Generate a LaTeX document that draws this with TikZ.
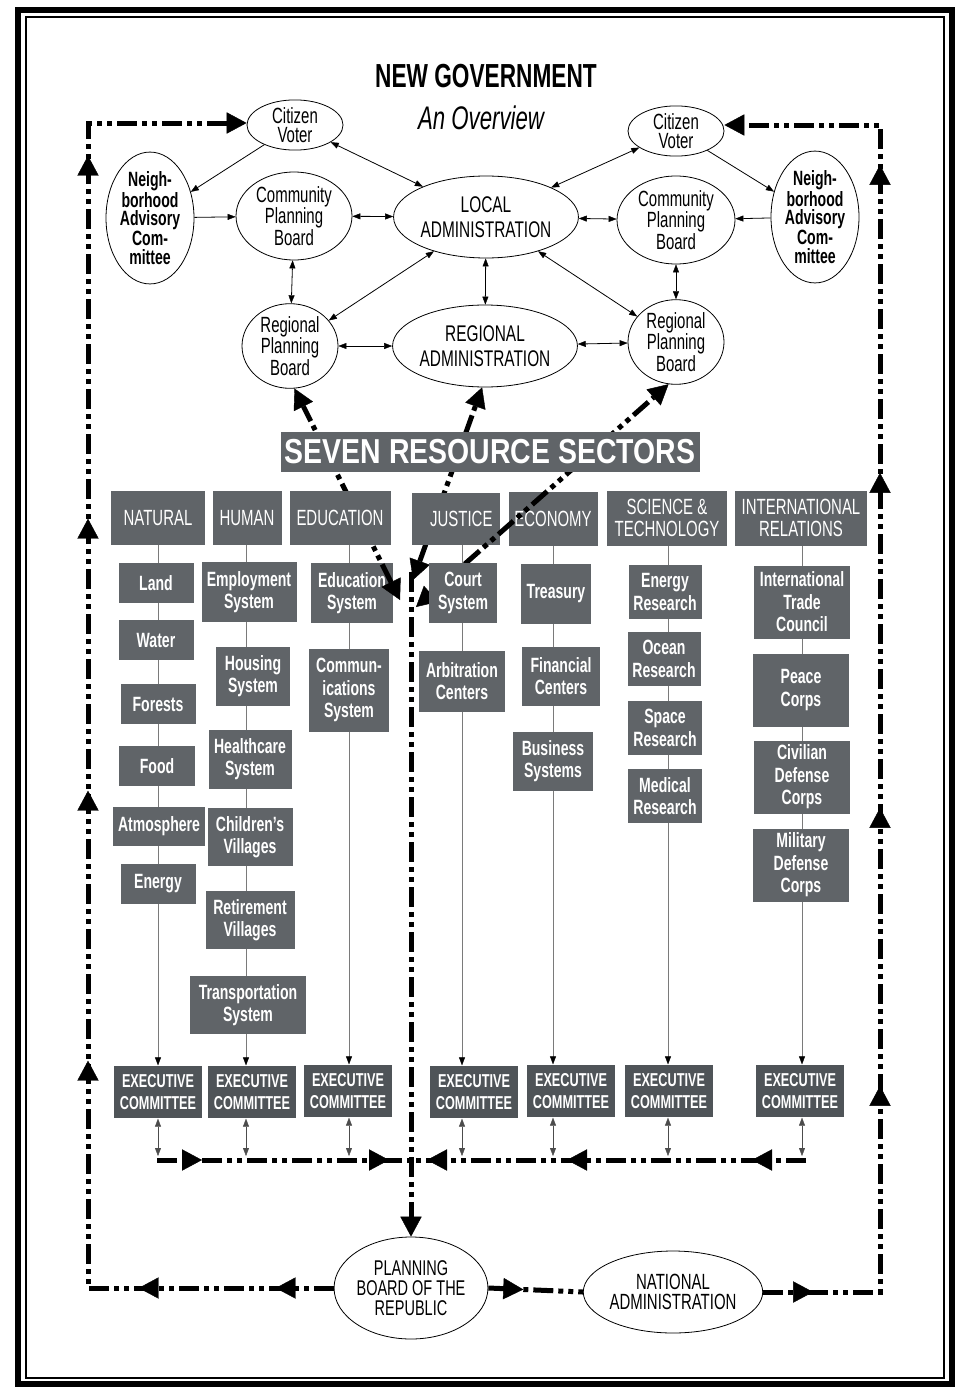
\documentclass[tikz,border=0pt]{standalone}
\usepackage{fontspec}
\setmainfont{Liberation Sans}[FakeStretch=0.68]
\newfontfamily\widefont{Liberation Sans}[FakeStretch=0.82]
\usetikzlibrary{shapes.geometric,arrows.meta,decorations.markings,calc}
\pgfdeclarelayer{bg}
\pgfsetlayers{bg,main}
\definecolor{boxgray}{HTML}{606468}
\definecolor{exgray}{HTML}{4F5458}
\definecolor{linegray}{HTML}{7A7A7A}
\tikzset{
  bigT/.tip={Triangle[length=15pt,width=16pt,line width=0.3pt]},
  smT/.tip={Triangle[length=6pt,width=4.5pt,line width=0.3pt]},
  ell/.style 2 args={ellipse,draw=black,line width=0.6pt,fill=white,inner sep=0pt,
    minimum width=#1*0.75pt,minimum height=#2*0.75pt,align=center,
    font=\fontsize{16.5}{14.5}\selectfont},
  sbox/.style 2 args={fill=boxgray,text=white,inner sep=0pt,align=center,
    minimum width=#1*0.75pt,minimum height=#2*0.75pt,
    font=\bfseries\fontsize{15.5}{16.8}\selectfont},
  hbox/.style 2 args={fill=boxgray,text=white,inner sep=0pt,align=center,
    minimum width=#1*0.75pt,minimum height=#2*0.75pt,
    font=\fontsize{16.5}{17}\selectfont},
  exbox/.style={fill=exgray,text=white,inner sep=0pt,align=center,
    minimum width=66pt,minimum height=39.5pt,
    font=\bfseries\fontsize{14}{16}\selectfont},
  thin1/.style={line width=0.6pt,-smT},
  dbl/.style={line width=0.6pt,smT-smT},
  colline/.style={line width=0.7pt,draw=linegray,-{Triangle[length=6pt,width=4.5pt,line width=0.3pt,color=black]}},
  thk/.style={line width=3.75pt,draw=black,
    dash pattern=on 15pt off 3.75pt on 3.75pt off 3.75pt on 3.75pt off 3.75pt},
}
\begin{document}
\begin{tikzpicture}[x=0.75pt,y=-0.75pt]
\useasboundingbox (0,0) rectangle (961,1388);
% frame
\draw[line width=4.5pt] (17.5,10.5) rectangle (951.5,1384);
\draw[line width=1.1pt] (26,17) rectangle (944,1378);

% titles
\node[font=\bfseries\fontsize{25}{26}\selectfont] (title) at (486,76) {NEW GOVERNMENT};
\node[font=\itshape\fontsize{24.5}{26}\selectfont] (subtitle) at (481,118) {An Overview};

% ellipses
\node[ell={96}{48}] (cvL) at (295,125) {Citizen\\Voter};
\node[ell={96}{48}] (cvR) at (676,131) {Citizen\\Voter};
\node[ell={88}{126},font=\bfseries\fontsize{15.5}{14}\selectfont] (nacL) at (150,218) {Neigh-\\borhood\\Advisory\\Com-\\mittee};
\node[ell={88}{126},font=\bfseries\fontsize{15.5}{14}\selectfont] (nacR) at (815,217) {Neigh-\\borhood\\Advisory\\Com-\\mittee};
\node[ell={116}{88},font=\fontsize{16.5}{14.5}\selectfont] (cpbL) at (294,216) {Community\\Planning\\Board};
\node[ell={118}{88},font=\fontsize{16.5}{14.5}\selectfont] (cpbR) at (676,220) {Community\\Planning\\Board};
\node[ell={172}{82},font=\fontsize{17}{19}\selectfont] (loc) at (486,217) {LOCAL\\ADMINISTRATION};
\node[ell={96}{80}] (rpbL) at (290,346) {Regional\\Planning\\Board};
\node[ell={170}{82},font=\fontsize{17}{19}\selectfont] (reg) at (485,346) {REGIONAL\\ADMINISTRATION};
\node[ell={96}{80}] (rpbR) at (676,342) {Regional\\Planning\\Board};
\node[ell={136}{102},font=\fontsize{16}{15}\selectfont] (pbr) at (411,1288) {PLANNING\\BOARD OF THE\\REPUBLIC};
\node[ell={166}{82},font=\fontsize{16.5}{15}\selectfont] (nat) at (673,1292) {NATIONAL\\ADMINISTRATION};

% thin connectors
\draw[thin1] (cvL) -- (nacL);
\draw[dbl] (cvL) -- (loc);
\draw[thin1] (nacL) -- (cpbL);
\draw[dbl] (cpbL) -- (loc);
\draw[dbl] (cpbL) -- (rpbL);
\draw[dbl] (loc) -- (rpbL);
\draw[dbl] (loc) -- (reg);
\draw[dbl] (loc) -- (rpbR);
\draw[dbl] (cvR) -- (loc);
\draw[thin1] (cvR) -- (nacR);
\draw[thin1] (nacR) -- (cpbR);
\draw[dbl] (loc) -- (cpbR);
\draw[dbl] (cpbR) -- (rpbR);
\draw[dbl] (rpbL) -- (reg);
\draw[dbl] (reg) -- (rpbR);

% column coordinates
\coordinate (colA) at (158,0);
\coordinate (colB) at (246,0);
\coordinate (colC) at (349,0);
\coordinate (colD) at (462,0);
\coordinate (colE) at (553,0);
\coordinate (colF) at (668,0);
\coordinate (colG) at (802,0);
\coordinate (hl) at (0,1156);
\coordinate (J) at (411,1160);
\coordinate (hlft) at (157,1160);
\coordinate (hrt) at (806,1160);
\coordinate (Jtop) at (411,572);
\coordinate (s1) at (400,600);
\coordinate (s2) at (413,580);
\coordinate (s3) at (416,607);
\coordinate (BL) at (88,1288);
\coordinate (TL) at (88,123);
\coordinate (BR) at (880,1292);
\coordinate (TR) at (880,125);

% sub boxes (Court System drawn later)
\node[sbox={75}{40}] (a1) at (156,583) {Land};
\node[sbox={75}{40}] (a2) at (156,640) {Water};
\node[sbox={75}{40}] (a3) at (158,704) {Forests};
\node[sbox={76}{40}] (a4) at (157,766) {Food};
\node[sbox={92}{39}] (a5) at (159,826) {Atmosphere};
\node[sbox={75}{40}] (a6) at (158,884) {Energy};

\node[sbox={95}{60}] (b1) at (249,592) {Employment\\System};
\node[sbox={74}{59}] (b2) at (253,676) {Housing\\System};
\node[sbox={83}{59}] (b3) at (250,759) {Healthcare\\System};
\node[sbox={85}{58}] (b4) at (250,837) {Children’s\\Villages};
\node[sbox={89}{58}] (b5) at (250,920) {Retirement\\Villages};
\node[sbox={116}{58}] (b6) at (248,1005) {Transportation\\System};

\node[sbox={82}{60}] (c1) at (352,593) {Education\\System};
\node[sbox={80}{83}] (c2) at (349,690) {Commun-\\ications\\System};

\node[sbox={86}{61}] (d2) at (462,681) {Arbitration\\Centers};

\node[sbox={70}{60}] (e1) at (556,594) {Treasury};
\node[sbox={78}{59}] (e2) at (561,676) {Financial\\Centers};
\node[sbox={80}{59}] (e3) at (553,761) {Business\\Systems};

\node[sbox={73}{54}] (f1) at (665,592) {Energy\\Research};
\node[sbox={73}{54}] (f2) at (664,659) {Ocean\\Research};
\node[sbox={74}{54}] (f3) at (665,728) {Space\\Research};
\node[sbox={74}{54}] (f4) at (665,796) {Medical\\Research};

\node[sbox={96}{73}] (g1) at (802,602) {International\\Trade\\Council};
\node[sbox={96}{73}] (g2) at (801,690) {Peace\\Corps};
\node[sbox={96}{73}] (g3) at (802,777) {Civilian\\Defense\\Corps};
\node[sbox={96}{73}] (g4) at (801,865) {Military\\Defense\\Corps};

% executive committees
\node[exbox] (eA) at (158,1092) {EXECUTIVE\\COMMITTEE};
\node[exbox] (eB) at (252,1092) {EXECUTIVE\\COMMITTEE};
\node[exbox] (eC) at (348,1091) {EXECUTIVE\\COMMITTEE};
\node[exbox] (eD) at (474,1092) {EXECUTIVE\\COMMITTEE};
\node[exbox] (eE) at (571,1091) {EXECUTIVE\\COMMITTEE};
\node[exbox] (eF) at (669,1091) {EXECUTIVE\\COMMITTEE};
\node[exbox] (eG) at (800,1091) {EXECUTIVE\\COMMITTEE};

% thick links from the planning board junction to regional level (under headers)
\draw[thk,bigT-bigT] (s1) -- (rpbL.-84);
\draw[thk,bigT-bigT] (s2) -- (reg.-94);

% sector headers
\node[hbox={94}{54}] (hA) at (158,518) {NATURAL};
\node[hbox={69}{54}] (hB) at (247,518) {HUMAN};
\node[hbox={101}{54}] (hC) at (340,518) {EDUCATION};
\node[hbox={88}{52}] (hD) at (456,519) {\hspace*{8pt}JUSTICE};
\node[hbox={89}{54}] (hE) at (553,519) {ECONOMY};
\node[hbox={120}{55}] (hF) at (667,518) {SCIENCE \&\\TECHNOLOGY};
\node[hbox={132}{55}] (hG) at (801,518) {INTERNATIONAL\\RELATIONS};

\draw[thk,bigT-bigT] (s3) -- (rpbR.-100);

\node[sbox={68}{60}] (d1) at (463,593) {Court\\System};

% column lines
\begin{pgfonlayer}{bg}
\foreach \c/\h/\e in {colA/hA/eA,colB/hB/eB,colC/hC/eC,colD/hD/eD,colE/hE/eE,colF/hF/eF,colG/hG/eG}
  \draw[colline] (\c |- \h.south) -- (\c |- \e.north);
\end{pgfonlayer}

% executive links to horizontal line
\foreach \c/\e in {colA/eA,colB/eB,colC/eC,colD/eD,colE/eE,colF/eF,colG/eG}
  \draw[dbl,draw=black!70] (\c |- \e.south) -- (\c |- hl);

% horizontal thick line
\draw[thk,postaction={decorate},decoration={markings,
  mark=at position 33.75pt with {\arrow{bigT}},
  mark=at position 174pt with {\arrow{bigT}}}] (hlft) -- (J);
\draw[thk,postaction={decorate},decoration={markings,
  mark=at position 40.5pt with {\arrow{bigT}},
  mark=at position 179.25pt with {\arrow{bigT}},
  mark=at position 284.25pt with {\arrow{bigT}}}] (hrt) -- (J);

% vertical down to planning board of the republic
\draw[thk,-bigT] (Jtop) -- (pbr.north);

% outer loops
\draw[thk,-bigT,postaction={decorate},decoration={markings,
  mark=at position 43.5pt with {\arrow{bigT}},
  mark=at position 146.25pt with {\arrow{bigT}},
  mark=at position 354.75pt with {\arrow{bigT}},
  mark=at position 557.25pt with {\arrow{bigT}},
  mark=at position 761.25pt with {\arrow{bigT}},
  mark=at position 1033.5pt with {\arrow{bigT}}}]
  (pbr.west) -- (BL) -- (TL) -- (TL -| cvL.west);
\draw[thk,postaction={decorate},decoration={markings,
  mark=at position 0.37 with {\arrow{bigT}}}] (pbr.east) -- (nat.west);
\draw[thk,-bigT,postaction={decorate},decoration={markings,
  mark=at position 37.5pt with {\arrow{bigT}},
  mark=at position 242.25pt with {\arrow{bigT}},
  mark=at position 450.75pt with {\arrow{bigT}},
  mark=at position 702pt with {\arrow{bigT}},
  mark=at position 933pt with {\arrow{bigT}}}]
  (nat.east) -- (BR) -- (TR) -- (TR -| cvR.east);

% banner
\node[fill=boxgray,text=white,inner sep=0pt,minimum width=314.25pt,minimum height=30pt,
  font=\widefont\bfseries\fontsize{26}{28}\selectfont] (banner) at (490,452) {SEVEN RESOURCE SECTORS};
\end{tikzpicture}
\end{document}
